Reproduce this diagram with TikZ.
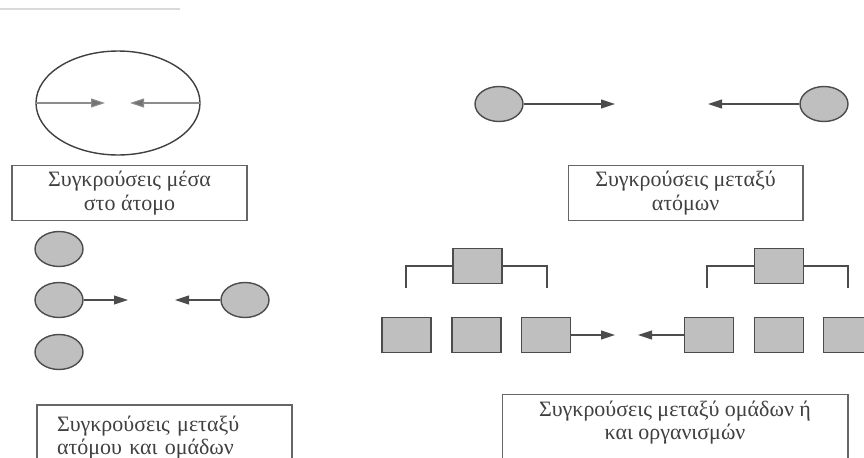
\documentclass[tikz,border=0pt]{standalone}
\usepackage{fontspec}
\setmainfont{Liberation Serif}
\usetikzlibrary{arrows.meta, shapes.geometric, positioning}

\tikzset{
  atom/.style={ellipse, draw=black!70, line width=0.8pt, fill=black!25, minimum width=0.96cm, minimum height=0.7cm, inner sep=0pt},
  group/.style={rectangle, draw=black!70, line width=0.8pt, fill=black!25, minimum width=0.98cm, minimum height=0.7cm, inner sep=0pt},
  caption/.style={rectangle, draw=black!60, line width=0.6pt, minimum height=1.04cm, align=center, text=black!75, font=\fontsize{12.5}{13.5}\selectfont},
  push/.style={draw=black!70, line width=0.6pt, -{Triangle[length=0.28cm, width=0.18cm]}},
  inner/.style={draw=black!45, line width=0.6pt, -{Triangle[length=0.28cm, width=0.18cm, fill=black!55]}},
  bracket/.style={draw=black!70, line width=0.6pt}
}

\begin{document}
\begin{tikzpicture}[x=0.02cm, y=-0.02cm]
  \useasboundingbox (0,0) rectangle (864,457);
  \clip (0,0) rectangle (864,457);
  \draw[black!15, line width=0.8pt] (0,9) -- (180,9);

  % inside the atom
  \node[ellipse, draw=black!75, line width=0.8pt, minimum width=3.28cm, minimum height=2.08cm, inner sep=0pt] (atom) at (118,103) {};
  \coordinate (inA) at (105,103);
  \coordinate (inB) at (130,103);
  \draw[inner] (atom.west) -- (inA);
  \draw[inner] (atom.east) -- (inB);
  \node[caption, minimum width=4.7cm] (capA) at (129.5,193) {Συγκρούσεις μέσα\\στο άτομο};

  % between atoms
  \node[atom] (a1) at (499,104) {};
  \node[atom] (a2) at (824,104) {};
  \coordinate (a1to) at (615,104);
  \coordinate (a2to) at (708,104);
  \draw[push] (a1.east) -- (a1to);
  \draw[push] (a2.west) -- (a2to);
  \node[caption, minimum width=4.7cm] (capB) at (685.5,193) {Συγκρούσεις μεταξύ\\ατόμων};

  % atom and groups
  \node[atom] (g1) at (59,249) {};
  \node[atom] (g2) at (59,300) {};
  \node[atom] (g3) at (59,352) {};
  \node[atom] (g4) at (245,300) {};
  \coordinate (g2to) at (128,300);
  \coordinate (g4to) at (175,300);
  \draw[push] (g2.east) -- (g2to);
  \draw[push] (g4.west) -- (g4to);
  \node[caption, minimum width=5.1cm, minimum height=1.3cm, align=left, text width=4.3cm] (capC) at (164.5,437.5) {Συγκρούσεις μεταξύ\\ατόμου και ομάδων\\[0.5em]};

  % groups and organisations
  \node[group] (lt) at (477.5,266) {};
  \node[group] (l1) at (406.5,335) {};
  \node[group] (l2) at (476.5,335) {};
  \node[group] (l3) at (546,335) {};
  \node[group] (rt) at (779,266) {};
  \node[group] (r1) at (709,335) {};
  \node[group] (r2) at (779,335) {};
  \node[group] (r3) at (848,335) {};
  \coordinate (lbl) at (406,288);
  \coordinate (lbr) at (547,288);
  \coordinate (rbl) at (707,288);
  \coordinate (rbr) at (848,288);
  \draw[bracket] (lbl) |- (lt.west);
  \draw[bracket] (lt.east) -| (lbr);
  \draw[bracket] (rbl) |- (rt.west);
  \draw[bracket] (rt.east) -| (rbr);
  \coordinate (l3to) at (615,335);
  \coordinate (r1to) at (638,335);
  \draw[push] (l3.east) -- (l3to);
  \draw[push] (r1.west) -- (r1to);
  \node[caption, minimum width=6.92cm, minimum height=1.3cm] (capD) at (675,437.5) {Συγκρούσεις μεταξύ ομάδων ή\\και οργανισμών\\[0.5em]};
\end{tikzpicture}
\end{document}
